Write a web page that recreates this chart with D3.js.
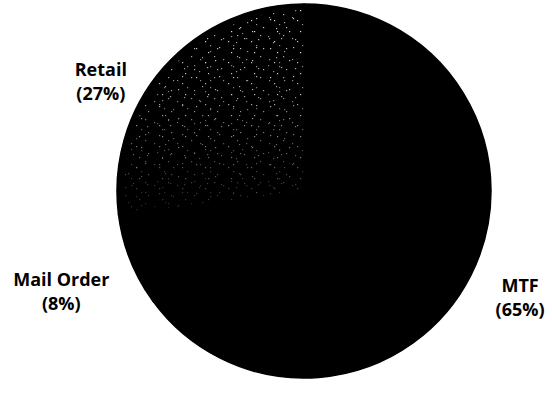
<!DOCTYPE html>
<html><head><meta charset="utf-8">
<script src="https://cdn.jsdelivr.net/npm/d3@7"></script>
<style>html,body{margin:0;padding:0;background:#fff;}</style>
</head><body>
<svg id="chart" width="552" height="412"></svg>
<script>
const categories = ["MTF", "Mail Order", "Retail"];
const values = [65, 8, 27];
const labelText = ["(65%)", "(8%)", "(27%)"];

const W = 552, H = 412;
const cx = 304, cy = 191, R = 187;
const svg = d3.select("#chart");

// speckle texture for Retail (hand-placed grain, two periods to break regularity)
const defs = svg.append("defs");
const grainA = [[3,2,"#ddd"],[17,5,"#aaa"],[26,1,"#ccc"],[9,11,"#bbb"],[22,14,"#ddd"],
                [1,19,"#999"],[14,21,"#ccc"],[28,22,"#bbb"],[6,25,"#aaa"],[12,16,"#999"]];
const grainB = [[5,4,"#ccc"],[19,8,"#eee"],[11,15,"#aaa"],[2,12,"#bbb"],[16,18,"#ddd"],[21,1,"#999"]];
function makePattern(id, w, h, pts){
  const p = defs.append("pattern").attr("id",id).attr("patternUnits","userSpaceOnUse")
    .attr("width",w).attr("height",h);
  p.selectAll("rect").data(pts).join("rect")
    .attr("x",d=>d[0]).attr("y",d=>d[1]).attr("width",1.2).attr("height",1.2).attr("fill",d=>d[2]);
}
makePattern("speckA", 37, 29, grainA);
makePattern("speckB", 23, 21, grainB);
const grad = defs.append("linearGradient").attr("id","fade").attr("gradientUnits","userSpaceOnUse")
  .attr("x1",0).attr("y1",-R).attr("x2",0).attr("y2",30);
grad.append("stop").attr("offset",0).attr("stop-color","#fff");
grad.append("stop").attr("offset",0.4).attr("stop-color","#ccc");
grad.append("stop").attr("offset",1).attr("stop-color","#222");
defs.append("mask").attr("id","fadeMask").attr("maskUnits","userSpaceOnUse")
  .attr("x",-cx).attr("y",-cy).attr("width",W).attr("height",H)
  .append("rect").attr("x",-cx).attr("y",-cy).attr("width",W).attr("height",H).attr("fill","url(#fade)");

const pie = d3.pie().sort(null).value(d=>d)(values);
const arc = d3.arc().innerRadius(0).outerRadius(R);
const g = svg.append("g").attr("transform",`translate(${cx},${cy})`);
g.append("circle").attr("r",R).attr("fill","#000");
g.selectAll("path.slice").data(pie).join("path").attr("class","slice")
  .attr("d",arc).attr("fill","#000").attr("stroke","#000").attr("stroke-width",1.5);
const speckArc = d3.arc().innerRadius(0).outerRadius(R-6)(pie[2]);
["speckA","speckB"].forEach(id=>{
  g.append("path").attr("d",speckArc).attr("fill",`url(#${id})`).attr("mask","url(#fadeMask)");
});

// labels: radial placement from slice mid-angle with per-label tweaks
const labelR = [239, 261, 233];
const labelAngleShift = [-0.03, 0, -0.211];
const lineGap = 24.6;
const lab = svg.append("g").attr("font-family","'Open Sans', Lato, sans-serif")
  .attr("font-weight","bold").attr("font-size",18).attr("fill","#000").attr("text-anchor","middle");
pie.forEach((p,i)=>{
  const a = (p.startAngle+p.endAngle)/2 + labelAngleShift[i];
  const x = cx + labelR[i]*Math.sin(a), y = cy - labelR[i]*Math.cos(a) - 1.3;
  const t = lab.append("text").attr("x",x).attr("y",y);
  t.append("tspan").attr("x",x).attr("dy",0).text(categories[i]);
  t.append("tspan").attr("x",x).attr("dy",lineGap).text(labelText[i]);
});
</script>
</body></html>
